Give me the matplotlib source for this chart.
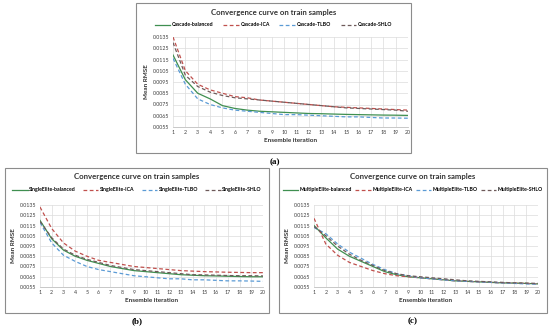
import matplotlib
matplotlib.use('Agg')
import matplotlib.pyplot as plt
from matplotlib.patches import Rectangle

W, H = 550, 328
iters = list(range(1, 21))
yticks = [0.0055, 0.0065, 0.0075, 0.0085, 0.0095, 0.0105, 0.0115, 0.0125, 0.0135]

# (a) Cascade
cas_bal = [0.0119, 0.0097, 0.0085, 0.0080, 0.0074, 0.00715, 0.0070, 0.0069, 0.00685, 0.0068,
           0.00675, 0.0067, 0.00668, 0.00665, 0.00662, 0.0066, 0.00658, 0.00656, 0.00655, 0.00653]
cas_ica = [0.0135, 0.0105, 0.0093, 0.0088, 0.0085, 0.0082, 0.0081, 0.0079, 0.0078, 0.0077,
           0.0076, 0.0075, 0.0074, 0.0073, 0.00725, 0.0072, 0.00715, 0.0071, 0.00705, 0.0070]
cas_tlbo = [0.0116, 0.0093, 0.0080, 0.0075, 0.0072, 0.0070, 0.0069, 0.0068, 0.0067, 0.0066,
            0.0066, 0.00655, 0.0065, 0.00645, 0.0064, 0.0064, 0.00635, 0.0063, 0.0063, 0.00628]
cas_shlo = [0.0130, 0.0101, 0.0091, 0.0086, 0.0083, 0.0081, 0.0080, 0.0079, 0.0078, 0.0077,
            0.0076, 0.0075, 0.0074, 0.0073, 0.0072, 0.00715, 0.0071, 0.00705, 0.0070, 0.0069]

# (b) SingleElite
se_bal = [0.0120, 0.0102, 0.0091, 0.0085, 0.0081, 0.0078, 0.0075, 0.0073, 0.0071, 0.0070,
          0.0069, 0.0068, 0.0067, 0.00665, 0.0066, 0.00658, 0.00655, 0.00652, 0.0065, 0.0065]
se_ica = [0.0133, 0.0112, 0.0098, 0.0090, 0.0085, 0.0081, 0.0079, 0.0077, 0.0075, 0.0074,
          0.0073, 0.0072, 0.0071, 0.00705, 0.0070, 0.00697, 0.00694, 0.00692, 0.0069, 0.0069]
se_tlbo = [0.0118, 0.0098, 0.0086, 0.0080, 0.0075, 0.0072, 0.0070, 0.0068, 0.0066, 0.0065,
           0.0064, 0.0063, 0.0063, 0.0062, 0.0062, 0.00615, 0.0061, 0.0061, 0.00608, 0.00605]
se_shlo = [0.0119, 0.0103, 0.0092, 0.0086, 0.0082, 0.0079, 0.0076, 0.0074, 0.0072, 0.0071,
           0.0070, 0.0069, 0.0068, 0.0067, 0.00668, 0.00665, 0.00662, 0.0066, 0.0066, 0.00658]

# (c) MultipleElite
me_bal = [0.0115, 0.0103, 0.0092, 0.0085, 0.0080, 0.0075, 0.0070, 0.0067, 0.0065, 0.0064,
          0.0063, 0.0062, 0.0061, 0.00605, 0.0060, 0.00595, 0.0059, 0.00588, 0.00585, 0.0058]
me_ica = [0.0122, 0.0097, 0.0086, 0.0079, 0.0075, 0.0071, 0.0068, 0.0066, 0.0065, 0.0064,
          0.0063, 0.0062, 0.0061, 0.00605, 0.0060, 0.00595, 0.0059, 0.00588, 0.00585, 0.0058]
me_tlbo = [0.0113, 0.0107, 0.0097, 0.0089, 0.0083, 0.0077, 0.0072, 0.0068, 0.0066, 0.0064,
           0.0063, 0.0062, 0.0061, 0.00605, 0.0060, 0.00595, 0.0059, 0.00585, 0.0058, 0.00578]
me_shlo = [0.0114, 0.0105, 0.0095, 0.0087, 0.0081, 0.0076, 0.0071, 0.0068, 0.0066, 0.0065,
           0.0064, 0.0063, 0.0062, 0.0061, 0.00605, 0.0060, 0.00595, 0.0059, 0.00588, 0.00585]

colors = {'balanced': '#3f8f50', 'ICA': '#c0504d', 'TLBO': '#5b9bd5', 'SHLO': '#6e5a5a'}

plt.rcParams['font.family'] = ['Lato', 'DejaVu Sans']

fig = plt.figure(figsize=(W / 100, H / 100), dpi=100)


def px(x0, y0, x1, y1):
    # pixel box (top-left origin) -> figure fraction rect
    return [x0 / W, 1 - y1 / H, (x1 - x0) / W, (y1 - y0) / H]


def panel(box, area, prefix, series, label, label_xy, title_y, leg_y, colsp):
    bx0, by0, bx1, by1 = box
    cx = (bx0 + bx1) / 2 / W
    fig.patches.append(Rectangle((bx0 / W, 1 - by1 / H), (bx1 - bx0) / W, (by1 - by0) / H,
                                 transform=fig.transFigure, fill=False,
                                 edgecolor='#8c8c8c', lw=0.8))
    ax = fig.add_axes(px(*area))
    ls = {'balanced': '-', 'ICA': (0, (3, 2)), 'TLBO': (0, (3, 2)), 'SHLO': (0, (3, 2))}
    for name, vals in series:
        ax.plot(iters, vals, color=colors[name], lw=0.9, linestyle=ls[name],
                label=prefix + '-' + name)
    ax.set_xlim(1, 20)
    ax.set_ylim(0.0055, 0.0135)
    ax.set_xticks(iters)
    ax.set_yticks(yticks)
    ax.set_yticklabels(['%.4f' % v for v in yticks])
    ax.grid(True, color='#dcdcdc', lw=0.5)
    ax.set_axisbelow(True)
    for s in ['top', 'right', 'left']:
        ax.spines[s].set_visible(False)
    ax.spines['bottom'].set_color('#bfbfbf')
    ax.spines['bottom'].set_linewidth(0.6)
    ax.tick_params(length=0, labelsize=3.8, colors='#404040', pad=2.5)
    ax.set_xlabel('Ensemble iteration', fontsize=4.6, fontweight='bold', color='#333333', labelpad=2)
    ax.set_ylabel('Mean RMSE', fontsize=4.6, fontweight='bold', color='#333333', labelpad=3)
    fig.text(cx, 1 - title_y / H, 'Convergence curve on train samples', ha='center',
             va='center', fontsize=5.6, fontweight='bold', color='#333333')
    ax.legend(loc='center', bbox_to_anchor=(cx, 1 - leg_y / H), bbox_transform=fig.transFigure,
              ncol=4, frameon=False, handlelength=3.0, columnspacing=colsp, handletextpad=0.3,
              borderaxespad=0, borderpad=0, prop={'weight': 'bold', 'size': 3.7})
    fig.text(label_xy[0] / W, 1 - label_xy[1] / H, label, ha='center', va='center',
             fontsize=6.5, family='Liberation Serif', fontweight='bold')
    return ax


panel((136, 3, 411, 153), (173, 37, 408, 127), 'Cascade',
      [('balanced', cas_bal), ('ICA', cas_ica), ('TLBO', cas_tlbo), ('SHLO', cas_shlo)],
      '(a)', (275, 162), 13, 25, 1.9)
panel((5, 168, 269, 313), (40, 205, 263, 287), 'SingleElite',
      [('balanced', se_bal), ('ICA', se_ica), ('TLBO', se_tlbo), ('SHLO', se_shlo)],
      '(b)', (137, 321), 177, 190, 1.4)
panel((279, 168, 547, 313), (314, 205, 538, 287), 'MultipleElite',
      [('balanced', me_bal), ('ICA', me_ica), ('TLBO', me_tlbo), ('SHLO', me_shlo)],
      '(c)', (413, 321), 177, 190, 0.6)

fig.savefig('out.png', dpi=100)
